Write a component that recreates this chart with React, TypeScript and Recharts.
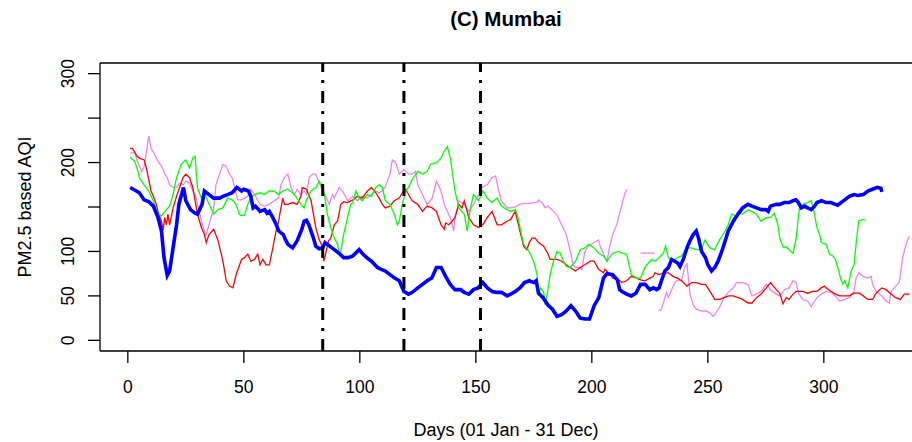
import { LineChart, Line, XAxis, YAxis, ReferenceLine } from "recharts";

const FONT = "'Liberation Sans', Arial, sans-serif";

// day-of-year marks for the three vertical dash-dot lines
const markerDays = [84, 119, 152];
const xTicks = [0, 50, 100, 150, 200, 250, 300];
const yTicks = [0, 50, 100, 150, 200, 250, 300];
const yLabelled = [0, 50, 100, 200, 300];

const blueDay = [1, 5, 7, 9, 11, 13, 14.5, 15.6, 17, 18, 19.5, 21, 22, 24, 25, 27, 29, 30, 32, 33, 35, 37, 39.5, 41, 43, 45, 47, 49, 50, 52, 53, 54, 55, 57, 59, 60, 61, 62.5, 64, 65, 67, 68, 69, 71, 73, 75, 76, 77, 78, 80, 81, 82.5, 84, 85, 87, 89, 91, 93, 95, 97, 99.7, 101, 103, 105, 107.6, 109, 111, 113, 115, 117, 119, 121, 122.6, 125, 127, 129, 131, 133, 135, 137, 139, 141, 143.4, 145, 147, 149, 151, 153, 155, 157, 159, 161, 163.5, 165, 167, 169, 171, 173, 175, 176, 177, 179, 181, 183, 185, 187, 189, 191, 193, 195, 197, 199, 201, 203, 204, 205, 206.5, 209, 211, 212, 213, 215, 217, 219, 221, 223, 225, 226.5, 228, 229, 230, 231.5, 233, 234.4, 235.8, 237, 238, 239.4, 241, 242.3, 243.7, 245, 246, 247.3, 249, 250, 251.6, 253, 254.4, 256, 257, 258.8, 261, 263, 265, 267.3, 269, 271, 273, 275, 276, 277, 279.5, 281, 283, 285, 286.7, 288, 289, 290.3, 291.7, 293, 294.6, 296, 297, 299, 301, 303, 305, 306, 307.4, 309, 311, 313, 314.6, 317, 319, 321, 323, 324.6, 325];
const blueAqi = [172, 166, 158, 156, 151, 138, 123, 93, 73, 78, 104, 130, 153, 172, 157, 147, 143, 142, 153, 168, 164, 160, 160, 162, 164, 166, 172, 168, 170, 168, 162, 149, 151, 145, 147, 143, 145, 138, 130, 123, 119, 113, 108, 104, 112, 125, 134, 135, 130, 115, 106, 103, 104, 110, 106, 102, 98, 93, 93, 95, 102, 98, 93, 89, 82, 80, 78, 74, 70, 67, 55, 52, 54, 59, 63, 67, 70, 82, 82, 72, 63, 57, 57, 54, 52, 57, 59, 65, 59, 55, 54, 54, 50, 52, 55, 59, 65, 67, 65, 67, 53, 48, 40, 35, 27, 29, 33, 39, 33, 25, 24, 24, 39, 48, 59, 70, 75, 74, 68, 57, 55, 52, 50, 53, 63, 63, 57, 59, 57, 59, 67, 78, 82, 91, 89, 87, 83, 91, 104, 112, 119, 123, 115, 100, 93, 85, 78, 82, 89, 100, 108, 123, 134, 142, 149, 153, 151, 149, 147, 147, 145, 151, 153, 153, 155, 155, 157, 158, 155, 149, 151, 149, 147, 151, 155, 157, 155, 155, 153, 152, 155, 158, 162, 164, 163, 164, 168, 170, 172, 171, 167];

const redDay = [1, 2, 4, 5, 7, 8, 9, 10, 11, 12.3, 13, 14.5, 15.2, 15.9, 16.6, 17.3, 18, 19.5, 21, 22.3, 23.8, 25, 26.6, 28, 29, 30, 31.7, 33, 33.8, 35, 37, 38.8, 41, 42.4, 43.8, 45.3, 46.7, 49, 50.3, 51.7, 53, 54.6, 56, 57, 58.2, 59.6, 61, 62.5, 63.9, 65, 66, 66.8, 67.5, 69, 71, 73, 74.6, 75.2, 77, 79, 81, 82.5, 83.5, 84.5, 85.5, 86.5, 87.5, 89, 90.4, 91.8, 93, 94.7, 97, 99, 101, 103.3, 105, 106.9, 108.3, 109.7, 111, 113, 114.8, 117, 118.3, 119.8, 121, 122.6, 125, 127, 129, 131.2, 133, 135, 136.4, 137, 138.3, 139.8, 141, 142.7, 144, 145, 147, 149, 151.2, 153, 154.9, 157, 159.2, 161, 163.5, 165, 167, 169, 170.6, 172, 173, 174.2, 175.6, 177, 179.2, 181, 182, 185, 187, 189, 190.7, 193, 195, 197, 199.3, 201, 202.9, 205, 205.7, 207.9, 209, 211.5, 213, 215, 217, 219.3, 221, 222.9, 225, 226.5, 227.2, 229, 230.8, 233, 235, 237, 238.7, 241, 243, 245, 247.3, 249, 250.9, 253, 255, 257, 259, 261, 263, 265, 267.3, 269, 271, 273, 275.2, 277, 279.5, 281, 282.4, 283.8, 285, 286.7, 288.1, 291, 293, 295.3, 297, 298.9, 300.3, 301, 303.2, 305, 306.7, 309, 311, 313, 315.3, 317, 319, 321, 322.5, 325, 326.8, 329, 331, 333, 334.7, 337];
const redAqi = [216, 216, 207, 205, 203, 194, 181, 168, 162, 153, 145, 134, 124, 138, 130, 142, 130, 149, 162, 172, 183, 187, 183, 172, 157, 142, 127, 119, 110, 119, 125, 113, 89, 67, 61, 59, 74, 91, 93, 97, 89, 91, 97, 85, 91, 85, 85, 104, 123, 134, 149, 160, 153, 153, 155, 153, 162, 172, 170, 157, 127, 113, 108, 89, 100, 112, 115, 130, 134, 153, 156, 155, 158, 162, 160, 168, 172, 166, 160, 153, 149, 151, 157, 160, 166, 170, 164, 157, 153, 145, 151, 149, 145, 130, 125, 132, 130, 134, 138, 153, 149, 157, 138, 130, 127, 130, 138, 145, 130, 130, 134, 136, 145, 123, 106, 102, 110, 115, 115, 110, 106, 98, 91, 91, 89, 85, 82, 78, 82, 85, 89, 89, 80, 76, 80, 74, 70, 68, 65, 67, 72, 70, 68, 67, 70, 72, 76, 74, 76, 76, 72, 70, 67, 61, 65, 65, 63, 63, 55, 46, 46, 48, 50, 50, 48, 46, 42, 42, 48, 52, 59, 65, 57, 53, 41, 48, 46, 52, 55, 55, 53, 55, 55, 59, 61, 59, 55, 52, 50, 50, 50, 53, 53, 50, 46, 46, 53, 59, 57, 52, 48, 46, 52, 52];

const greenDay = [1, 3, 4.4, 5, 7, 9, 11, 13, 14.5, 16.6, 18, 19.5, 21, 23, 25, 26.6, 28, 29, 30, 31.7, 33, 35, 37, 38.8, 41, 43, 45, 46.7, 48, 49, 50.3, 51.7, 53, 54.6, 57, 59, 61, 63, 65, 66.8, 69, 71, 73, 74.6, 76, 77, 79, 81, 82.5, 84, 85, 86.1, 87.5, 89, 90.4, 91.1, 91.8, 93, 94.7, 96.1, 97, 98.3, 99.7, 101, 103.3, 105, 106.9, 108.3, 109.7, 111, 113, 114.8, 116.2, 117, 118.3, 119.8, 121, 122.6, 125, 127, 129, 130.5, 133, 135, 136.4, 137.7, 139, 141, 142.7, 145, 146.3, 147.7, 149, 151.2, 153, 154.9, 157, 159.2, 161, 163.5, 165, 167, 168, 169, 170.6, 173, 174.9, 176.4, 177, 177.8, 179.2, 179.9, 181, 182, 183.5, 185, 186.4, 187.8, 189, 190.7, 193, 195, 197, 198.6, 201, 202.9, 205, 206.5, 209, 211.5, 213, 215, 217, 219.3, 221, 222.9, 224.4, 225.8, 227.2, 229, 230.8, 231.8, 233, 234.4, 235.8, 237, 238.7, 240, 241, 243, 245, 247.3, 248.7, 250.9, 253, 255, 257, 258.8, 260.2, 262.3, 263.7, 265, 267.3, 269, 270.9, 273, 275.2, 277, 278.7, 280.2, 281, 282.4, 283.8, 285, 286.7, 288.1, 289, 289.5, 291, 293, 294.6, 296, 297, 298.2, 298.9, 301, 302.4, 303.9, 305, 306, 307.4, 308.2, 309, 310.3, 311.8, 313, 313.9, 315, 317, 317.9];
const greenAqi = [206, 201, 190, 183, 175, 168, 157, 142, 140, 147, 151, 164, 183, 198, 203, 194, 205, 207, 172, 160, 166, 153, 142, 147, 149, 160, 158, 153, 142, 140, 141, 153, 160, 164, 166, 164, 168, 168, 164, 168, 170, 166, 160, 153, 149, 158, 168, 172, 179, 172, 160, 141, 127, 115, 108, 98, 100, 119, 138, 153, 155, 168, 160, 157, 164, 162, 172, 175, 172, 157, 153, 142, 130, 134, 153, 168, 172, 181, 190, 187, 190, 198, 200, 205, 213, 218, 205, 168, 149, 142, 123, 149, 164, 157, 168, 160, 155, 160, 151, 147, 145, 147, 140, 127, 108, 100, 89, 74, 50, 59, 55, 40, 55, 74, 89, 100, 98, 89, 83, 82, 89, 102, 104, 108, 104, 98, 95, 89, 98, 100, 98, 97, 74, 70, 70, 82, 87, 91, 89, 93, 98, 106, 93, 89, 91, 93, 95, 100, 104, 104, 102, 102, 113, 104, 102, 113, 121, 130, 142, 140, 143, 142, 147, 145, 142, 134, 138, 138, 143, 130, 115, 105, 105, 102, 98, 115, 138, 149, 153, 155, 157, 142, 127, 119, 110, 108, 97, 95, 91, 82, 68, 63, 67, 59, 78, 85, 108, 134, 136, 135];

// null entries mark the gaps where the violet record is missing
const violetDay = [1, 3, 4, 6, 7, 8, 9, 10, 11.6, 13, 14.5, 16, 17, 18, 19.5, 21, 22.3, 23.8, 25, 26.6, 28, 29, 30, 31.7, 33, 33.8, 35, 37, 38, 39.5, 41, 42.4, 43.8, 45, 46, 47.4, 49, 50.3, 51.7, 53, 54.6, 57, 59, 61, 63, 65, 66, 67.5, 69, 70.3, 71.8, 73, 74.6, 76, 77, 78.2, 79.7, 81, 82.5, 84, 85, 86.8, 88.2, 89, 91.1, 93, 94.7, 97, 99, 101, 103.3, 105, 106.9, 108.3, 109.7, 111, 113, 114, 115.5, 117, 119, 121, 122.6, 124, 125, 127, 129, 131.2, 133, 135, 136.4, 137, 139, 140.5, 141, 142.7, 145, 147, 149, 151.2, 153, 154.9, 157, 158.5, 159.9, 161, 163.5, 165, 167, 169, 170.6, 173, 174.9, 176.4, 177, 178.5, 179.9, 181, 182.8, 185, 187, 189, 190.7, 192, 193, 195, 195.7, 197, 198.6, 201, 202.9, 203.6, 205, 206.5, 207.9, 209, 210.7, 212.2, 213, 214.3, 215.3, 218, 221, 227, 228, 228.7, 230, 231.5, 232.2, 233, 234.4, 235.8, 237, 238.7, 240, 241, 242.3, 243.7, 245, 247.3, 249, 250.9, 252.3, 253, 255, 257, 258.8, 261, 262.3, 265, 267.3, 269, 270.9, 273, 275.2, 277, 279.5, 281, 283, 285, 286.7, 288.1, 289, 291, 293, 294.6, 296, 297, 298.9, 301, 303.2, 305, 306.7, 309, 311, 313, 313.9, 315, 317, 319, 320.4, 321, 322.5, 325, 326.8, 328.2, 329, 331, 332.5, 333, 334, 335.4, 336.8];
const violetAqi = [211, 211, 202, 190, 195, 212, 230, 216, 209, 201, 196, 187, 183, 175, 172, 172, 177, 175, 179, 177, 168, 164, 153, 134, 123, 119, 130, 149, 175, 187, 198, 196, 187, 183, 172, 158, 158, 160, 162, 170, 164, 153, 151, 153, 157, 160, 175, 183, 187, 172, 164, 170, 164, 168, 164, 183, 187, 187, 177, 168, 164, 153, 164, 160, 172, 166, 157, 162, 157, 162, 160, 164, 168, 166, 168, 173, 187, 203, 200, 187, 192, 187, 187, 190, 175, 164, 153, 160, 179, 168, 153, 149, 138, 123, 138, 157, 153, 145, 153, 164, 173, 175, 183, 185, 168, 157, 149, 149, 150, 153, 154, 154, 155, 155, 158, 155, 149, 151, 147, 141, 130, 119, 100, 85, 82, 82, 80, 100, 106, 110, 113, 106, 97, 89, 108, 119, 130, 145, 153, 166, 170, null, 98, 98, null, 33, 35, 48, 54, 48, 57, 65, 68, 67, 82, 86, 52, 40, 35, 33, 33, 31, 27, 29, 37, 48, 54, 59, 65, 65, 63, 50, 52, 55, 63, 57, 52, 50, 57, 59, 67, 65, 53, 46, 44, 38, 44, 48, 52, 55, 54, 50, 44, 46, 48, 55, 70, 76, 72, 70, 72, 63, 55, 50, 44, 42, 55, 61, 65, 74, 93, 108, 117];

const toPoints = (days: number[], vals: (number | null)[]) =>
  days.map((d, i) => ({ day: d, aqi: vals[i] }));

const series = [
  { name: "violet", color: "#EE82EE", width: 1.3, data: toPoints(violetDay, violetAqi) },
  { name: "red", color: "#FF0000", width: 1.3, data: toPoints(redDay, redAqi) },
  { name: "green", color: "#00FF00", width: 1.3, data: toPoints(greenDay, greenAqi) },
  { name: "blue", color: "#0000FF", width: 3.6, data: toPoints(blueDay, blueAqi) },
];

const YTick = (props: any) => {
  const { x, y, payload } = props;
  if (!yLabelled.includes(payload.value)) return null;
  const bx = x - 12;
  return (
    <text
      x={bx}
      y={y}
      transform={`rotate(-90, ${bx}, ${y})`}
      textAnchor="middle"
      fontSize={17.5}
      fontFamily={FONT}
      fill="#000"
    >
      {payload.value}
    </text>
  );
};

export default function App() {
  return (
    <div style={{ position: "absolute", left: 0, top: 0, width: 912, height: 442, background: "#fff" }}>
      <div
        style={{
          position: "absolute", left: 100, width: 812, top: 7, textAlign: "center",
          fontFamily: FONT, fontWeight: "bold", fontSize: 20.5, color: "#000",
        }}
      >
        (C) Mumbai
      </div>
      <div
        style={{
          position: "absolute", left: 100, width: 812, top: 420, textAlign: "center",
          fontFamily: FONT, fontSize: 18, color: "#000",
        }}
      >
        Days (01 Jan - 31 Dec)
      </div>
      <div
        style={{
          position: "absolute", left: 25, top: 207, width: 0, height: 0,
        }}
      >
        <div
          style={{
            position: "absolute", left: 0, top: 0, whiteSpace: "nowrap",
            transform: "translate(-50%, -50%) rotate(-90deg)",
            fontFamily: FONT, fontSize: 18, color: "#000",
          }}
        >
          PM2.5 based AQI
        </div>
      </div>
      <LineChart
        width={912}
        height={442}
        margin={{ top: 63, right: 0, bottom: 31, left: 0 }}
        style={{ position: "absolute", left: 0, top: 0 }}
      >
        <XAxis
          dataKey="day"
          type="number"
          domain={[-12, 338]}
          ticks={xTicks}
          allowDataOverflow
          height={60}
          tickSize={12}
          tickMargin={18}
          axisLine={{ stroke: "#000", strokeWidth: 1.3 }}
          tickLine={{ stroke: "#000", strokeWidth: 1.3 }}
          tick={{ fill: "#000", fontSize: 17.5, fontFamily: FONT }}
        />
        <YAxis
          type="number"
          domain={[-12, 312]}
          ticks={yTicks}
          allowDataOverflow
          width={100}
          tickSize={12}
          tickMargin={2}
          axisLine={{ stroke: "#000", strokeWidth: 1.3 }}
          tickLine={{ stroke: "#000", strokeWidth: 1.3 }}
          tick={<YTick />}
        />
        <ReferenceLine y={312} stroke="#000" strokeWidth={1.3} />
        {series.map((s) => (
          <Line
            key={s.name}
            data={s.data}
            dataKey="aqi"
            type="linear"
            stroke={s.color}
            strokeWidth={s.width}
            dot={false}
            activeDot={false}
            connectNulls={false}
            isAnimationActive={false}
          />
        ))}
        {markerDays.map((d) => (
          <ReferenceLine
            key={d}
            x={d}
            stroke="#000"
            strokeWidth={3}
            strokeDasharray="12 8 3 8"
          />
        ))}
      </LineChart>
    </div>
  );
}
